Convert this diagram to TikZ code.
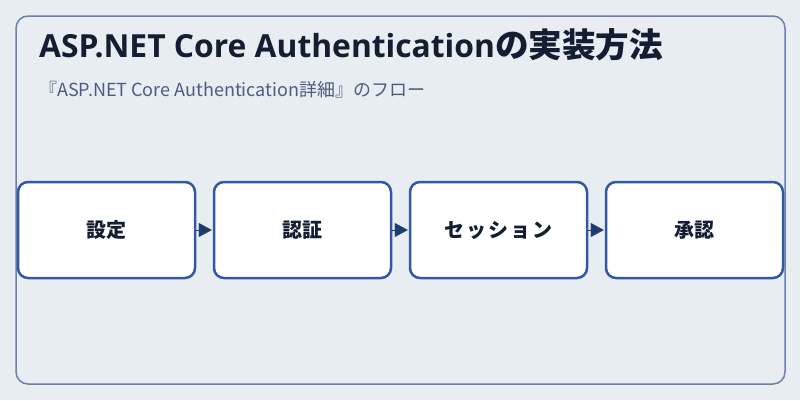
\documentclass[tikz,border=0pt]{standalone}
\usepackage{fontspec}
\setmainfont{Noto Sans CJK JP}
\newfontfamily\latinsans{Open Sans}
\usetikzlibrary{arrows.meta}
\definecolor{bg}{HTML}{E8EDF2}
\definecolor{frame}{HTML}{6A80A8}
\definecolor{boxline}{HTML}{3358A0}
\definecolor{arrowc}{HTML}{1F3A6E}
\definecolor{titlec}{HTML}{141E33}
\definecolor{subc}{HTML}{4A5D80}
\tikzset{
  stepbox/.style={draw=boxline, line width=2.5pt, fill=white, rounded corners=10pt,
    minimum width=177pt, minimum height=96pt, inner sep=0pt,
    font=\fontsize{20}{24}\selectfont\bfseries, text=titlec},
  flow/.style={draw=arrowc, line width=0.1pt, -{Triangle[length=13pt,width=14pt]}, color=arrowc, shorten >=1pt},
}
\begin{document}
\begin{tikzpicture}[x=1pt,y=-1pt]
\path[fill=bg] (0,0) rectangle (800,400);
\useasboundingbox (0,0) rectangle (800,400);
\draw[frame, line width=1.5pt, rounded corners=12pt] (16,16) rectangle (785,384);
\node[anchor=base west, inner sep=0pt, text=titlec] (title) at (39,57.5) {{\latinsans\bfseries\fontsize{31.8}{36}\selectfont ASP.NET Core Authentication}{\bfseries\fontsize{33.6}{38}\selectfont の実装方法}};
\node[anchor=base west, inner sep=0pt, text=subc, font=\fontsize{18}{22}\selectfont] (sub) at (39,96) {『ASP.NET Core Authentication詳細』のフロー};
\node[stepbox] (s1) at (106.5,230) {\raisebox{-2pt}{設定}};
\node[stepbox] (s2) at (302.5,230) {\raisebox{-2pt}{認証}};
\node[stepbox] (s3) at (498.5,230) {\raisebox{-2pt}{\addfontfeature{LetterSpace=10}セッション}};
\node[stepbox] (s4) at (694.5,230) {\raisebox{-2pt}{承認}};
\draw[flow] (s1) -- (s2);
\draw[flow] (s2) -- (s3);
\draw[flow] (s3) -- (s4);
\end{tikzpicture}
\end{document}
